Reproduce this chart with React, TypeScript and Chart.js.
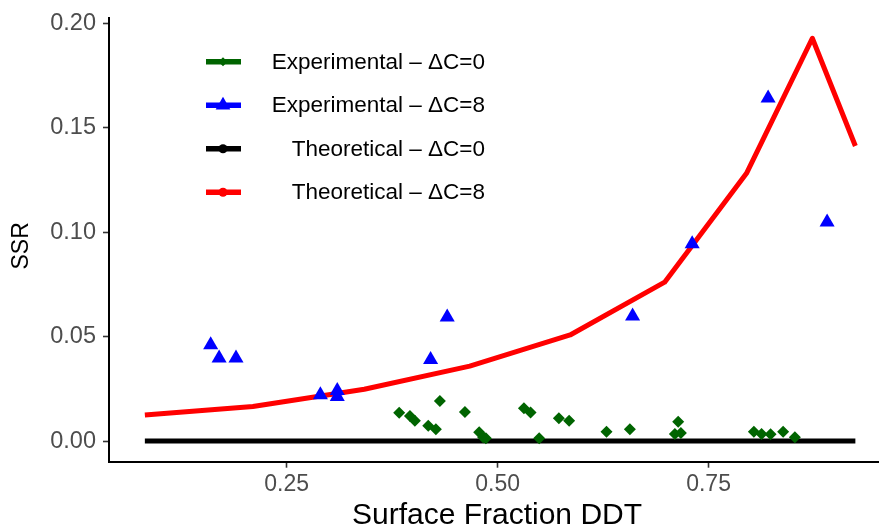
import React, { useEffect, useRef } from "react";
import { Chart, registerables } from "chart.js";

Chart.register(...registerables);

// ---- data ----
const seriesLabels = [
  "Experimental – ΔC=0",
  "Experimental – ΔC=8",
  "Theoretical – ΔC=0",
  "Theoretical – ΔC=8",
];

const expt0X = [0.3834, 0.3961, 0.402, 0.4178, 0.4269, 0.4316, 0.4613, 0.4782, 0.4829, 0.4861, 0.5312, 0.5391, 0.5493, 0.5726, 0.5848, 0.6291, 0.6568, 0.714, 0.7101, 0.7172, 0.8037, 0.8128, 0.8235, 0.8384, 0.8523];
const expt0Y = [0.0136, 0.012, 0.0097, 0.0073, 0.0057, 0.0192, 0.0139, 0.0042, 0.0018, 0.0013, 0.0157, 0.0137, 0.0013, 0.0109, 0.0097, 0.0045, 0.0057, 0.0092, 0.0034, 0.0038, 0.0045, 0.0034, 0.0032, 0.0045, 0.0018];

const expt8X = [0.16, 0.17, 0.19, 0.29, 0.31, 0.31, 0.4206, 0.4403, 0.66, 0.7306, 0.8206, 0.8905];
const expt8Y = [0.046, 0.0397, 0.0397, 0.0221, 0.0241, 0.0213, 0.039, 0.0593, 0.0598, 0.0944, 0.1642, 0.1048];

const theoryX = [0.082, 0.21, 0.342, 0.467, 0.586, 0.698, 0.795, 0.873, 0.924];
const theory0Y = [0, 0, 0, 0, 0, 0, 0, 0, 0];
const theory8Y = [0.0125, 0.0165, 0.0248, 0.0359, 0.0508, 0.0761, 0.1282, 0.1929, 0.1413];

const xTicks = [0.25, 0.5, 0.75];
const yTicks = [0, 0.05, 0.1, 0.15, 0.2];
const xTitle = "Surface Fraction DDT";
const yTitle = "SSR";

const FONT = "'Liberation Sans', Arial, Helvetica, sans-serif";

const zip = (xs: number[], ys: number[]) => xs.map((x, i) => ({ x, y: ys[i] }));

function drawMarker(ctx: CanvasRenderingContext2D, style: string, x: number, y: number, r: number, color: string) {
  ctx.fillStyle = color;
  ctx.beginPath();
  if (style === "rectRot") {
    ctx.moveTo(x, y - r);
    ctx.lineTo(x + r, y);
    ctx.lineTo(x, y + r);
    ctx.lineTo(x - r, y);
  } else if (style === "triangle") {
    ctx.moveTo(x, y - r);
    ctx.lineTo(x + r * Math.sin((2 * Math.PI) / 3), y + r / 2);
    ctx.lineTo(x - r * Math.sin((2 * Math.PI) / 3), y + r / 2);
  } else {
    ctx.arc(x, y, r, 0, Math.PI * 2);
  }
  ctx.closePath();
  ctx.fill();
}

const overlayPlugin = {
  id: "overlay",
  afterDraw(chart: any) {
    const ctx: CanvasRenderingContext2D = chart.ctx;
    const area = chart.chartArea;
    ctx.save();
    ctx.fillStyle = "#000";
    ctx.textBaseline = "middle";
    // x title
    ctx.font = `30px ${FONT}`;
    ctx.textAlign = "center";
    ctx.fillText(xTitle, (area.left + area.right) / 2 + 3, 516);
    // y title
    ctx.save();
    ctx.translate(22, (area.top + area.bottom) / 2 + 6);
    ctx.rotate(-Math.PI / 2);
    ctx.font = `23px ${FONT}`;
    ctx.fillText(yTitle, 0, 0);
    ctx.restore();

    // legend
    const legendStyles = [
      { style: "rectRot", r: 4.5, color: "#006400" },
      { style: "triangle", r: 8.5, color: "#0000FF" },
      { style: "circle", r: 4.5, color: "#000000" },
      { style: "circle", r: 4.5, color: "#FF0000" },
    ];
    const rowY0 = 61.7;
    const rowStep = 43.5;
    ctx.font = `22.5px ${FONT}`;
    ctx.textAlign = "right";
    seriesLabels.forEach((lab, i) => {
      const y = rowY0 + i * rowStep;
      const s = legendStyles[i];
      ctx.strokeStyle = s.color;
      ctx.lineWidth = 5.5;
      ctx.lineCap = "butt";
      ctx.beginPath();
      ctx.moveTo(206, y);
      ctx.lineTo(241, y);
      ctx.stroke();
      drawMarker(ctx, s.style, 223, y, s.r, s.color);
      ctx.fillStyle = "#000";
      ctx.fillText(lab, 485, y + 1);
    });
    ctx.restore();
  },
};

export default function App() {
  const ref = useRef<HTMLCanvasElement | null>(null);

  useEffect(() => {
    if (!ref.current) return;
    const chart = new Chart(ref.current, {
      type: "scatter",
      data: {
        datasets: [
          {
            type: "scatter",
            label: seriesLabels[0],
            data: zip(expt0X, expt0Y),
            pointStyle: "rectRot",
            pointRadius: 6,
            pointBackgroundColor: "#006400",
            pointBorderWidth: 0,
            borderColor: "#006400",
            order: 0,
          },
          {
            type: "scatter",
            label: seriesLabels[1],
            data: zip(expt8X, expt8Y),
            pointStyle: "triangle",
            pointRadius: 8.7,
            pointBackgroundColor: "#0000FF",
            pointBorderWidth: 0,
            borderColor: "#0000FF",
            order: 0,
          },
          {
            type: "line",
            label: seriesLabels[2],
            data: zip(theoryX, theory0Y),
            borderColor: "#000000",
            borderWidth: 5,
            pointRadius: 0,
            tension: 0,
            fill: false,
            borderCapStyle: "butt",
            borderJoinStyle: "round",
            order: 1,
          },
          {
            type: "line",
            label: seriesLabels[3],
            data: zip(theoryX, theory8Y),
            borderColor: "#FF0000",
            borderWidth: 5,
            pointRadius: 0,
            tension: 0,
            fill: false,
            borderCapStyle: "butt",
            borderJoinStyle: "round",
            order: 1,
          },
        ],
      },
      options: {
        animation: false,
        responsive: false,
        layout: { autoPadding: false, padding: { top: 18, right: 0, left: 0, bottom: 0 } },
        plugins: { legend: { display: false }, tooltip: { enabled: false } },
        scales: {
          x: {
            type: "linear",
            min: 0.0395,
            max: 0.952,
            afterBuildTicks: (axis: any) => {
              axis.ticks = xTicks.map((v) => ({ value: v }));
            },
            afterFit: (axis: any) => {
              axis.height = 529 - 461.7;
              axis.paddingLeft = 0;
              axis.paddingRight = 0;
            },
            ticks: {
              callback: (v: any) => Number(v).toFixed(2),
              color: "#4d4d4d",
              font: { family: FONT, size: 23 },
              padding: 3,
              maxRotation: 0,
            },
            grid: {
              drawOnChartArea: false,
              drawTicks: true,
              tickLength: 6,
              tickColor: "#333333",
              tickWidth: 1.6,
            },
            border: { display: true, color: "#000000", width: 2 },
          },
          y: {
            type: "linear",
            min: -0.0099,
            max: 0.2026,
            afterBuildTicks: (axis: any) => {
              axis.ticks = yTicks.map((v) => ({ value: v }));
            },
            afterFit: (axis: any) => {
              axis.width = 109;
              axis.paddingTop = 0;
              axis.paddingBottom = 0;
            },
            ticks: {
              callback: (v: any) => Number(v).toFixed(2),
              color: "#4d4d4d",
              font: { family: FONT, size: 23.5 },
              padding: 7,
            },
            grid: {
              drawOnChartArea: false,
              drawTicks: true,
              tickLength: 6,
              tickColor: "#333333",
              tickWidth: 1.6,
            },
            border: { display: true, color: "#000000", width: 2 },
          },
        },
      },
      plugins: [overlayPlugin],
    } as any);
    return () => chart.destroy();
  }, []);

  return (
    <div style={{ position: "fixed", left: 0, top: 0, width: 879, height: 529, background: "#fff" }}>
      <canvas ref={ref} width={879} height={529} style={{ display: "block" }} />
    </div>
  );
}
